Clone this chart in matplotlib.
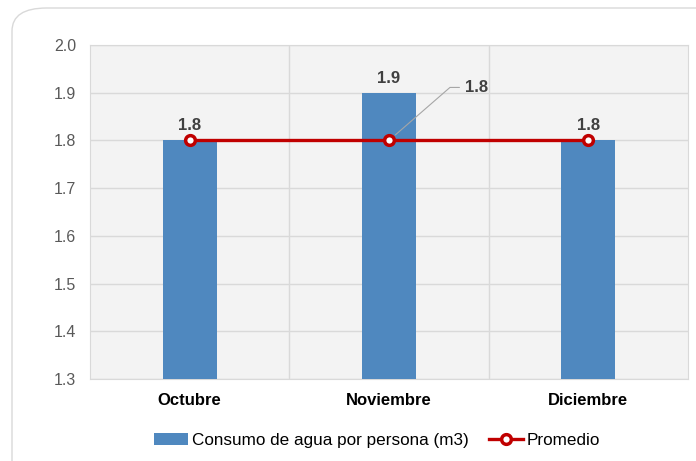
import matplotlib
matplotlib.use("Agg")
import matplotlib.pyplot as plt
from matplotlib.patches import FancyBboxPatch

categories = ["Octubre", "Noviembre", "Diciembre"]
consumo = [1.8, 1.9, 1.8]
promedio = [1.8, 1.8, 1.8]
yticks = [1.3, 1.4, 1.5, 1.6, 1.7, 1.8, 1.9, 2.0]

plt.rcParams['font.family'] = ['Liberation Sans', 'DejaVu Sans']

fig = plt.figure(figsize=(6.96, 4.61), dpi=100)
W, H = 696, 461
frame = FancyBboxPatch((12 / W, -0.05), 1.2, 1.05 - 8 / H,
                       boxstyle="round,pad=0,rounding_size=0.05",
                       transform=fig.transFigure, facecolor="white",
                       edgecolor="#d9d9d9", linewidth=1.0, zorder=-5)
fig.patches.append(frame)

ax = fig.add_axes([90 / W, 1 - 379 / H, 598 / W, 334 / H])
ax.set_facecolor("#f3f3f3")
x = list(range(len(categories)))
bars = ax.bar(x, consumo, width=0.27, color="#4f88bf", zorder=3,
              label="Consumo de agua por persona (m3)")
line, = ax.plot(x, promedio, color="#c00000", linewidth=2.4, marker="o",
                markersize=7, markerfacecolor="white", markeredgecolor="#c00000",
                markeredgewidth=2.5, zorder=4, label="Promedio")

ax.set_xlim(-0.5, 2.5)
ax.set_ylim(1.3, 2.0)
ax.set_yticks(yticks)
ax.set_yticklabels([f"{v:.1f}" for v in yticks], fontsize=11.5, color="#595959")
ax.set_xticks(x)
ax.set_xticklabels(categories, fontsize=12, fontweight="bold", color="black")
ax.set_xticks([0.5, 1.5], minor=True)
ax.grid(axis="y", which="major", color="#d9d9d9", linewidth=1, zorder=0)
ax.grid(axis="x", which="minor", color="#d9d9d9", linewidth=1, zorder=0)
ax.set_axisbelow(True)
ax.tick_params(axis="both", which="both", length=0)
ax.tick_params(axis="x", pad=10)
ax.tick_params(axis="y", pad=10)
for s in ax.spines.values():
    s.set_color("#d9d9d9")

for xi, v in zip(x, consumo):
    ax.annotate(f"{v:.1f}", (xi, v), xytext=(0, 5), textcoords="offset points",
                ha="center", va="bottom", fontsize=12, fontweight="bold",
                color="#404040", zorder=5)

ax.annotate(f"{promedio[1]:.1f}", (x[1], promedio[1]),
            xytext=(76, 53), textcoords="offset pixels",
            ha="left", va="center", fontsize=12, fontweight="bold", color="#404040",
            arrowprops=dict(arrowstyle="-", color="#a6a6a6", linewidth=0.8,
                            connectionstyle="angle,angleA=0,angleB=41,rad=0",
                            shrinkA=2, shrinkB=6),
            zorder=5)

leg = fig.legend(handles=[bars, line], loc="center",
                 bbox_to_anchor=(377 / W, 1 - 440 / H), ncol=2,
                 frameon=False, fontsize=12.3, handlelength=2.0,
                 handletextpad=0.2, columnspacing=1.2)
fig.savefig("out.png", dpi=100)
